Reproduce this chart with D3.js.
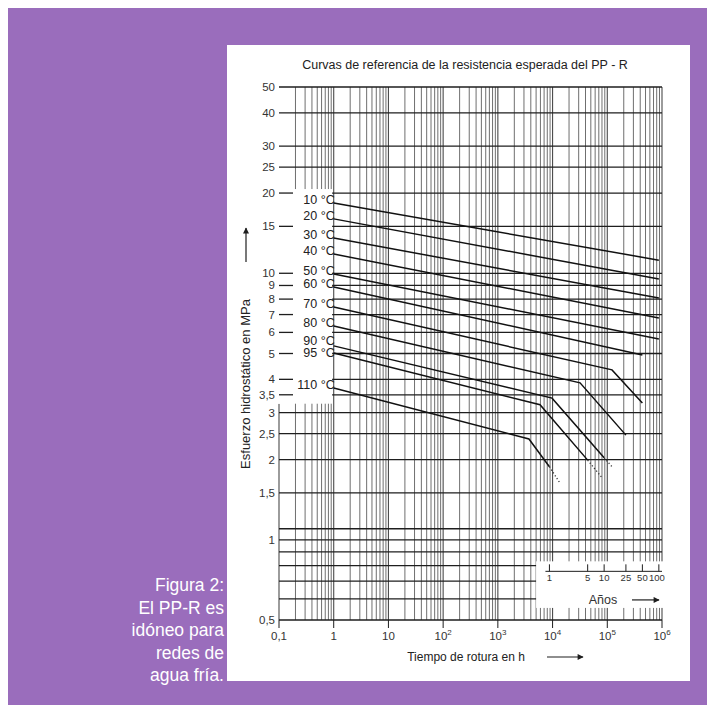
<!DOCTYPE html>
<html>
<head>
<meta charset="utf-8">
<script src="https://cdn.jsdelivr.net/npm/d3@7"></script>
<style>
  html, body { margin: 0; padding: 0; background: #ffffff; }
  svg { display: block; font-family: "Liberation Sans", Arial, Helvetica, sans-serif; }
</style>
</head>
<body>
<svg id="chart" width="715" height="713"></svg>
<script>
// ---- texts ----
const chartTitle = "Curvas de referencia de la resistencia esperada del PP - R";
const xTitle = "Tiempo de rotura en h";
const yTitle = "Esfuerzo hidrostático en MPa";
const captionLines = ["Figura 2:", "El PP-R es", "idóneo para", "redes de", "agua fría."];
const yearTitle = "Años";

// ---- axes ----
const hourTicks = [0.1, 1, 10, 100, 1000, 10000, 100000, 1000000];
const hourTickBase = ["0,1", "1", "10", "10", "10", "10", "10", "10"];
const hourTickExp = ["", "", "", "2", "3", "4", "5", "6"];
const stressTicks = [50, 40, 30, 25, 20, 15, 10, 9, 8, 7, 6, 5, 4, 3.5, 3, 2.5, 2, 1.5, 1, 0.5];
const stressTickLabels = ["50", "40", "30", "25", "20", "15", "10", "9", "8", "7", "6", "5", "4", "3,5", "3", "2,5", "2", "1,5", "1", "0,5"];
const stressGrid = [50, 40, 30, 25, 20, 15, 10, 9, 8, 7, 6, 5, 4, 3.5, 3, 2.5, 2, 1.5, 1.1, 1, 0.9, 0.8, 0.7, 0.6, 0.5];
const yearTicks = [1, 5, 10, 25, 50, 100];
const hoursPerYear = 8760;

// ---- reference curves: [time to failure in h, hoop stress in MPa] ----
const temperatureLabels = ["10 °C", "20 °C", "30 °C", "40 °C", "50 °C", "60 °C", "70 °C", "80 °C", "90 °C", "95 °C", "110 °C"];
const curve10  = [[1, 18.35], [876000, 11.2]];
const curve20  = [[1, 16.0],  [876000, 9.52]];
const curve30  = [[1, 13.56], [876000, 8.08]];
const curve40  = [[1, 11.81], [876000, 6.80]];
const curve50  = [[1, 9.94],  [876000, 5.67]];
const curve60  = [[1, 8.88],  [438000, 4.94]];
const curve70  = [[1, 7.47],  [122000, 4.34], [438000, 3.26]];
const curve80  = [[1, 6.34],  [31800, 3.88],  [219000, 2.47]];
const curve90  = [[1, 5.34],  [9800, 3.40],   [87600, 2.03]];
const curve95  = [[1, 5.02],  [5900, 3.21],   [43800, 1.99]];
const curve110 = [[1, 3.71],  [3700, 2.39],   [8760, 1.88]];
// extrapolated continuations (dotted)
const tail90  = [[87600, 2.03], [128000, 1.86]];
const tail95  = [[43800, 1.99], [80000, 1.71]];
const tail110 = [[8760, 1.88],  [13700, 1.63]];

const curves = [curve10, curve20, curve30, curve40, curve50, curve60, curve70, curve80, curve90, curve95, curve110];
const tails = [tail90, tail95, tail110];

// ---- drawing ----
const svg = d3.select("#chart");
const purple = "#9a6dbc";
const ink = "#1e1e1e";

svg.append("rect").attr("x", 8).attr("y", 8).attr("width", 699).attr("height", 697).attr("fill", purple);
svg.append("rect").attr("x", 227).attr("y", 45).attr("width", 463).attr("height", 636).attr("fill", "#ffffff");

const x = d3.scaleLog().domain([0.1, 1e6]).range([279, 662]);
const y = d3.scaleLog().domain([0.5, 50]).range([620, 87]);

const g = svg.append("g");

// vertical grid (1..9 per decade)
const vLines = [];
for (let k = -1; k <= 5; k++) {
  for (let m = 1; m <= 9; m++) vLines.push(m * Math.pow(10, k));
}
vLines.push(1e6);
const labelBoxTop = y(20) - 4;
const labelBoxBottom = (y(3.5) + y(3)) / 2;

g.selectAll("line.v").data(vLines).enter().append("line")
  .attr("class", "v")
  .attr("x1", d => x(d)).attr("x2", d => x(d))
  .attr("y1", d => d === 0.1 ? labelBoxBottom : y(50))
  .attr("y2", y(0.5))
  .attr("stroke", "#4a4a4a")
  .attr("stroke-width", d => (Math.abs(Math.log10(d) - Math.round(Math.log10(d))) < 1e-9) ? 1.1 : 0.8);

// horizontal grid
g.selectAll("line.h").data(stressGrid).enter().append("line")
  .attr("class", "h")
  .attr("x1", x(0.1)).attr("x2", x(1e6))
  .attr("y1", d => y(d)).attr("y2", d => y(d))
  .attr("stroke", ink).attr("stroke-width", 1.3);

// blank area behind the temperature labels
g.append("rect")
  .attr("x", x(0.1) - 1).attr("y", labelBoxTop)
  .attr("width", x(1) - x(0.1) - 0.6).attr("height", labelBoxBottom - labelBoxTop)
  .attr("fill", "#ffffff");

// short ticks on the left inside the label area
const boxedTicks = stressTicks.filter(v => v <= 20 && v >= 3.5);
g.selectAll("line.bt").data(boxedTicks).enter().append("line")
  .attr("x1", x(0.1)).attr("x2", x(0.1) + 14)
  .attr("y1", d => y(d)).attr("y2", d => y(d))
  .attr("stroke", ink).attr("stroke-width", 1.3);

// years inset
const insetLeft = x(5000);
const insetTop = y(0.83);
const insetBottom = y(0.555);
g.append("rect")
  .attr("x", insetLeft).attr("y", insetTop)
  .attr("width", x(1e6) + 2 - insetLeft).attr("height", insetBottom - insetTop)
  .attr("fill", "#ffffff");

const yearAxisY = insetTop + 10;
g.append("line")
  .attr("x1", x(hoursPerYear) - 4).attr("x2", x(1e6))
  .attr("y1", yearAxisY).attr("y2", yearAxisY)
  .attr("stroke", ink).attr("stroke-width", 1);
g.selectAll("line.yt").data(yearTicks).enter().append("line")
  .attr("x1", d => x(d * hoursPerYear)).attr("x2", d => x(d * hoursPerYear))
  .attr("y1", yearAxisY - 7).attr("y2", yearAxisY)
  .attr("stroke", ink).attr("stroke-width", 1);
g.selectAll("text.yl").data(yearTicks).enter().append("text")
  .attr("x", d => x(d * hoursPerYear) - (d === 100 ? 2 : 0))
  .attr("y", yearAxisY + 10)
  .attr("text-anchor", "middle")
  .attr("font-size", 9.5).attr("fill", "#333")
  .text(d => d);
g.append("text")
  .attr("x", 603).attr("y", insetBottom - 4)
  .attr("text-anchor", "middle").attr("font-size", 12.5).attr("fill", "#333")
  .text(yearTitle);

// arrow helper
const defs = svg.append("defs");
defs.append("marker").attr("id", "head")
  .attr("viewBox", "0 0 10 10").attr("refX", 9).attr("refY", 5)
  .attr("markerWidth", 10).attr("markerHeight", 6)
  .attr("markerUnits", "userSpaceOnUse")
  .attr("orient", "auto")
  .append("path").attr("d", "M0,0 L10,5 L0,10 z").attr("fill", ink);
function arrow(x1, y1, x2, y2) {
  svg.append("line")
    .attr("x1", x1).attr("y1", y1).attr("x2", x2).attr("y2", y2)
    .attr("stroke", ink).attr("stroke-width", 1.2)
    .attr("marker-end", "url(#head)");
}
arrow(632, insetBottom - 8, 659, insetBottom - 8);

// x axis ticks and labels
g.selectAll("line.xt").data(hourTicks).enter().append("line")
  .attr("x1", d => x(d)).attr("x2", d => x(d))
  .attr("y1", y(0.5)).attr("y2", y(0.5) + 8)
  .attr("stroke", ink).attr("stroke-width", 1);
const xl = g.selectAll("text.xl").data(hourTicks).enter().append("text")
  .attr("x", d => x(d)).attr("y", y(0.5) + 20)
  .attr("text-anchor", "middle").attr("font-size", 11.5).attr("fill", "#333");
xl.append("tspan").text((d, i) => hourTickBase[i]);
xl.append("tspan").attr("font-size", 8).attr("dy", -5).text((d, i) => hourTickExp[i]);

// y labels
g.selectAll("text.yl2").data(stressTicks).enter().append("text")
  .attr("x", 275).attr("y", d => y(d))
  .attr("dy", "0.35em")
  .attr("text-anchor", "end").attr("font-size", 11.5).attr("fill", "#333")
  .text((d, i) => stressTickLabels[i]);

// curves
const line = d3.line().x(d => x(d[0])).y(d => y(d[1]));
g.selectAll("path.curve").data(curves).enter().append("path")
  .attr("d", line).attr("fill", "none")
  .attr("stroke", "#111").attr("stroke-width", 1.5);
g.selectAll("path.tail").data(tails).enter().append("path")
  .attr("d", line).attr("fill", "none")
  .attr("stroke", "#333").attr("stroke-width", 1.3)
  .attr("stroke-dasharray", "1.2,2.2");

// temperature labels, kept apart so they do not collide
const minGap = 12.5;
const labelY = curves.map(c => y(c[0][1]) - 3);
for (let it = 0; it < 30; it++) {
  for (let i = 1; i < labelY.length; i++) {
    const gap = labelY[i] - labelY[i - 1];
    if (gap < minGap) {
      const shift = (minGap - gap) / 2;
      labelY[i - 1] -= shift;
      labelY[i] += shift;
    }
  }
}
g.selectAll("text.temp").data(temperatureLabels).enter().append("text")
  .attr("x", x(1) + 1).attr("y", (d, i) => labelY[i])
  .attr("dy", "0.35em")
  .attr("text-anchor", "end").attr("font-size", 12.5).attr("fill", "#222")
  .text(d => d);

// titles
svg.append("text").attr("x", 465).attr("y", 69)
  .attr("text-anchor", "middle").attr("font-size", 12.5).attr("fill", "#222")
  .text(chartTitle);
svg.append("text").attr("x", 466).attr("y", 661)
  .attr("text-anchor", "middle").attr("font-size", 12).attr("fill", "#222")
  .text(xTitle);
arrow(547, 657, 583, 657);

svg.append("text")
  .attr("transform", "translate(250,384) rotate(-90)")
  .attr("text-anchor", "middle").attr("font-size", 13).attr("fill", "#222")
  .text(yTitle);
arrow(246, 262, 246, 228);

// caption
svg.append("g").selectAll("text").data(captionLines).enter().append("text")
  .attr("x", 224).attr("y", (d, i) => 591 + i * 22.5)
  .attr("text-anchor", "end").attr("font-size", 17.5).attr("fill", "#ffffff")
  .text(d => d);
</script>
</body>
</html>
